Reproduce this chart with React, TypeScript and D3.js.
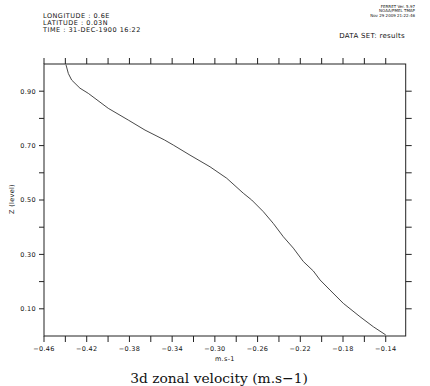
import React from "react";
import * as d3 from "d3";

// Vertical profile: z level and zonal velocity (m.s-1)
const zLevels = [
  0.997, 0.965, 0.941, 0.911, 0.892, 0.837, 0.794, 0.757, 0.721, 0.702,
  0.665, 0.622, 0.58, 0.525, 0.5, 0.457, 0.414, 0.365, 0.323, 0.274,
  0.239, 0.206, 0.169, 0.12, 0.071, 0.034, 0.004,
];
const velocity = [
  -0.4394, -0.4372, -0.4341, -0.4263, -0.4185, -0.3998, -0.3811, -0.3654,
  -0.3473, -0.3389, -0.3233, -0.3045, -0.2889, -0.2734, -0.2655, -0.2546,
  -0.2453, -0.2359, -0.2265, -0.2172, -0.2078, -0.2015, -0.1922, -0.1797,
  -0.1641, -0.1516, -0.14,
];

const xTickValues = d3.range(0, 17).map((i) => -0.46 + i * 0.02);
const xLabelValues = [-0.46, -0.42, -0.38, -0.34, -0.3, -0.26, -0.22, -0.18, -0.14];
const yTickValues = [0.1, 0.2, 0.3, 0.4, 0.5, 0.6, 0.7, 0.8, 0.9];
const yLabelValues = [0.1, 0.3, 0.5, 0.7, 0.9];

const headerLines = ["LONGITUDE : 0.6E", "LATITUDE : 0.03N", "TIME : 31-DEC-1900 16:22"];
const stampLines = ["FERRET Ver. 5.97", "NOAA/PMEL TMAP", "Nov 29 2009 21:22:46"];
const datasetLabel = "DATA SET: results";
const xAxisTitle = "m.s-1";
const yAxisTitle = "Z (level)";
const chartTitle = "3d zonal velocity (m.s\u22121)";

const W = 430;
const H = 386;
const left = 44;
const right = 405.7;
const top = 64;
const bottom = 336;
const tickLen = 6;

const sans = "'DejaVu Sans', sans-serif";

const fmtX = (v: number) => v.toFixed(2).replace("-", "\u2212");
const fmtY = (v: number) => v.toFixed(2);

export default function App() {
  const x = d3.scaleLinear().domain([-0.46, -0.1213]).range([left, right]);
  const y = d3.scaleLinear().domain([0, 1]).range([bottom, top]);

  const pts = zLevels.map((z, i) => [velocity[i], z] as [number, number]);
  const line = d3
    .line<[number, number]>()
    .x((d) => x(d[0]))
    .y((d) => y(d[1]));

  return (
    <svg
      width={W}
      height={H}
      style={{ position: "absolute", left: 0, top: 0, background: "#fff" }}
    >
      <rect x={0} y={0} width={W} height={H} fill="#fff" />
      {/* header */}
      {headerLines.map((t, i) => (
        <text
          key={t}
          x={43}
          y={18 + i * 7}
          fontFamily={sans}
          fontSize={6.5}
          letterSpacing={0.5}
          fill="#111"
        >
          {t}
        </text>
      ))}
      {stampLines.map((t, i) => (
        <text
          key={t}
          x={415}
          y={8 + i * 4.3}
          fontFamily={sans}
          fontSize={4}
          textAnchor="end"
          fill="#111"
        >
          {t}
        </text>
      ))}
      <text
        x={405}
        y={38}
        fontFamily={sans}
        fontSize={7}
        letterSpacing={0.3}
        textAnchor="end"
        fill="#111"
      >
        {datasetLabel}
      </text>

      {/* frame */}
      <rect
        x={left}
        y={top}
        width={right - left}
        height={bottom - top}
        fill="none"
        stroke="#222"
        strokeWidth={1}
      />

      {/* x ticks top and bottom */}
      {xTickValues.map((v) => (
        <g key={`xt${v.toFixed(2)}`} stroke="#222" strokeWidth={1}>
          <line x1={x(v)} x2={x(v)} y1={top} y2={top - tickLen} />
          <line x1={x(v)} x2={x(v)} y1={bottom} y2={bottom + tickLen} />
        </g>
      ))}
      {/* y ticks left and right */}
      {yTickValues.map((v) => (
        <g key={`yt${v.toFixed(2)}`} stroke="#222" strokeWidth={1}>
          <line x1={left} x2={left - 5} y1={y(v)} y2={y(v)} />
          <line x1={right} x2={right + tickLen} y1={y(v)} y2={y(v)} />
        </g>
      ))}

      {xLabelValues.map((v) => (
        <text
          key={`xl${v.toFixed(2)}`}
          x={x(v)}
          y={351}
          fontFamily={sans}
          fontSize={6.5}
          letterSpacing={0.3}
          textAnchor="middle"
          fill="#111"
        >
          {fmtX(v)}
        </text>
      ))}
      {yLabelValues.map((v) => (
        <text
          key={`yl${v.toFixed(2)}`}
          x={36}
          y={y(v) + 2.4}
          fontFamily={sans}
          fontSize={6.5}
          letterSpacing={0.3}
          textAnchor="end"
          fill="#111"
        >
          {fmtY(v)}
        </text>
      ))}

      <text
        x={(left + right) / 2}
        y={361}
        fontFamily={sans}
        fontSize={6.5}
        letterSpacing={0.3}
        textAnchor="middle"
        fill="#111"
      >
        {xAxisTitle}
      </text>
      <text
        transform={`translate(14, 199) rotate(-90)`}
        fontFamily={sans}
        fontSize={6.5}
        letterSpacing={0.3}
        textAnchor="middle"
        fill="#111"
      >
        {yAxisTitle}
      </text>

      {/* profile */}
      <path
        d={line(pts) ?? ""}
        fill="none"
        stroke="#333"
        strokeWidth={0.9}
        strokeLinejoin="round"
      />

      <text
        x={219}
        y={383}
        fontFamily="'DejaVu Serif', serif"
        fontSize={13.8}
        textAnchor="middle"
        fill="#111"
      >
        {chartTitle}
      </text>
    </svg>
  );
}
